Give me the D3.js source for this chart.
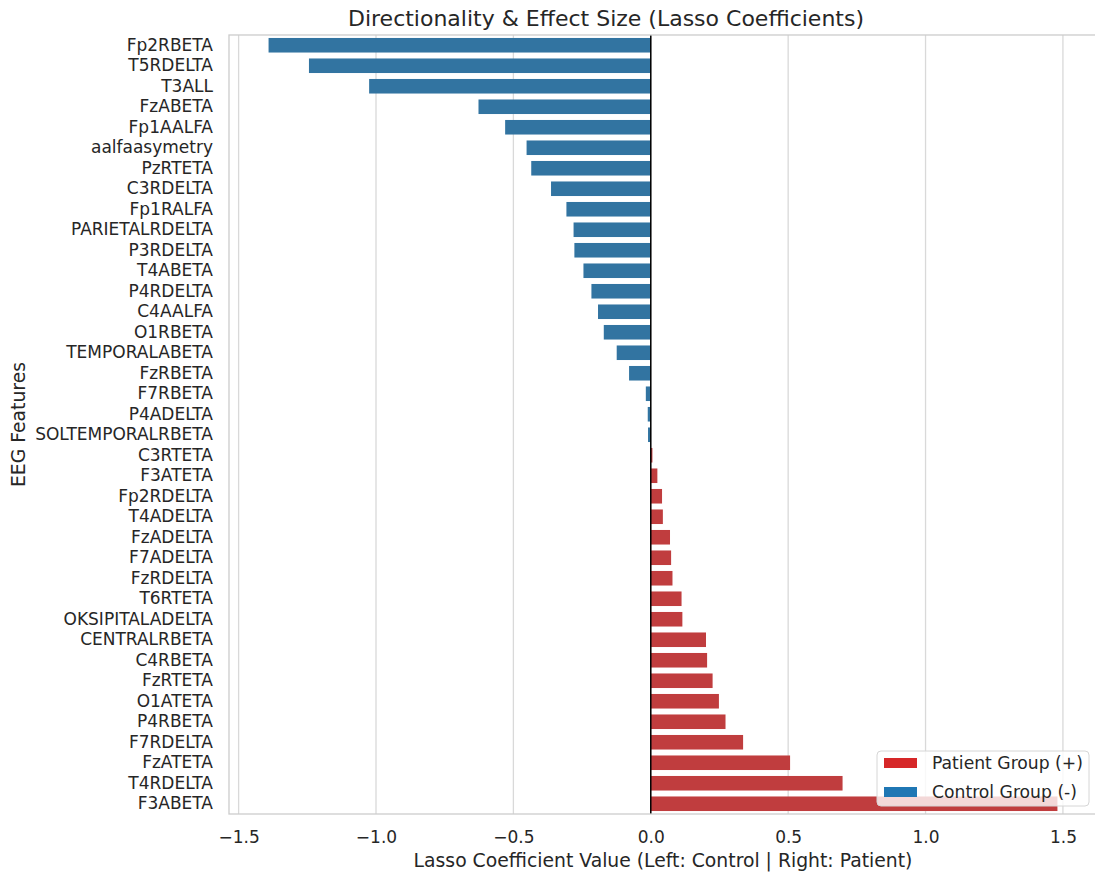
<!DOCTYPE html>
<html>
<head>
<meta charset="utf-8">
<script src="https://cdn.jsdelivr.net/npm/d3@7"></script>
<style>
  html, body { margin: 0; padding: 0; background: #ffffff; }
  svg { display: block; font-family: "DejaVu Sans", sans-serif; }
</style>
</head>
<body>
<svg id="chart" width="1095" height="878"></svg>
<script>
// EEG features ordered by Lasso coefficient (most negative first)
const features = [
  "Fp2RBETA", "T5RDELTA", "T3ALL", "FzABETA", "Fp1AALFA", "aalfaasymetry",
  "PzRTETA", "C3RDELTA", "Fp1RALFA", "PARIETALRDELTA", "P3RDELTA", "T4ABETA",
  "P4RDELTA", "C4AALFA", "O1RBETA", "TEMPORALABETA", "FzRBETA", "F7RBETA",
  "P4ADELTA", "SOLTEMPORALRBETA", "C3RTETA", "F3ATETA", "Fp2RDELTA", "T4ADELTA",
  "FzADELTA", "F7ADELTA", "FzRDELTA", "T6RTETA", "OKSIPITALADELTA", "CENTRALRBETA",
  "C4RBETA", "FzRTETA", "O1ATETA", "P4RBETA", "F7RDELTA", "FzATETA",
  "T4RDELTA", "F3ABETA"
];

const coefficients = [
  -1.391, -1.244, -1.025, -0.627, -0.530, -0.452,
  -0.435, -0.363, -0.307, -0.281, -0.278, -0.245,
  -0.216, -0.192, -0.171, -0.124, -0.079, -0.018,
  -0.011, -0.010, 0.006, 0.024, 0.041, 0.044,
  0.070, 0.074, 0.079, 0.112, 0.115, 0.201,
  0.205, 0.225, 0.248, 0.272, 0.336, 0.507,
  0.698, 1.480
];

const xTicks = [-1.5, -1.0, -0.5, 0.0, 0.5, 1.0, 1.5];

const legendLabels = ["Patient Group (+)", "Control Group (-)"];
const legendColors = ["#d62728", "#1f77b4"];

const data = features.map((f, i) => ({ feature: f, value: coefficients[i] }));

const svg = d3.select("#chart");
const margin = { left: 229, right: 1097, top: 35, bottom: 814 };

const x = d3.scaleLinear().domain([-1.535, 1.624]).range([margin.left, margin.right]);
const y = d3.scaleBand().domain(features).range([margin.top, margin.bottom])
  .paddingInner(0.29).paddingOuter(0.145);

const textColor = "#262626";
const gridColor = "#d9d9d9";

// vertical grid lines
svg.append("g")
  .selectAll("line")
  .data(xTicks)
  .join("line")
  .attr("x1", d => x(d)).attr("x2", d => x(d))
  .attr("y1", margin.top).attr("y2", margin.bottom)
  .attr("stroke", gridColor)
  .attr("stroke-width", 1.3);

// bars
svg.append("g")
  .selectAll("rect")
  .data(data)
  .join("rect")
  .attr("x", d => x(Math.min(0, d.value)))
  .attr("width", d => Math.abs(x(d.value) - x(0)))
  .attr("y", d => y(d.feature))
  .attr("height", y.bandwidth())
  .attr("fill", d => d.value >= 0 ? "#c03d3e" : "#3274a1");

// zero reference line
svg.append("line")
  .attr("x1", x(0)).attr("x2", x(0))
  .attr("y1", margin.top).attr("y2", margin.bottom)
  .attr("stroke", "#000000")
  .attr("stroke-width", 1.5);

// frame (left, top, bottom spines)
svg.append("rect")
  .attr("x", margin.left).attr("y", margin.top)
  .attr("width", margin.right - margin.left)
  .attr("height", margin.bottom - margin.top)
  .attr("fill", "none")
  .attr("stroke", "#cccccc")
  .attr("stroke-width", 1.3);

// x axis
const xAxis = svg.append("g")
  .attr("transform", `translate(0,${margin.bottom})`)
  .call(d3.axisBottom(x).tickValues(xTicks).tickFormat(d3.format(".1f")).tickSize(0).tickPadding(17));
xAxis.select(".domain").remove();
xAxis.selectAll("text")
  .attr("fill", textColor)
  .style("font-size", "17px")
  .style("font-family", "DejaVu Sans");

// y axis
const yAxis = svg.append("g")
  .attr("transform", `translate(${margin.left},0)`)
  .call(d3.axisLeft(y).tickSize(0).tickPadding(16));
yAxis.select(".domain").remove();
yAxis.selectAll("text")
  .attr("fill", textColor)
  .style("font-size", "17px")
  .style("font-family", "DejaVu Sans");

// titles
svg.append("text")
  .attr("x", 606).attr("y", 26)
  .attr("text-anchor", "middle")
  .attr("fill", textColor)
  .style("font-size", "22px")
  .text("Directionality & Effect Size (Lasso Coefficients)");

svg.append("text")
  .attr("x", (margin.left + margin.right) / 2).attr("y", 867)
  .attr("text-anchor", "middle")
  .attr("fill", textColor)
  .style("font-size", "18.8px")
  .text("Lasso Coefficient Value (Left: Control | Right: Patient)");

svg.append("text")
  .attr("transform", `translate(25,${(margin.top + margin.bottom) / 2}) rotate(-90)`)
  .attr("text-anchor", "middle")
  .attr("fill", textColor)
  .style("font-size", "18.8px")
  .text("EEG Features");

// legend
const legend = svg.append("g").attr("transform", "translate(877,751)");
legend.append("rect")
  .attr("width", 212).attr("height", 55)
  .attr("rx", 4).attr("ry", 4)
  .attr("fill", "#ffffff").attr("fill-opacity", 0.8)
  .attr("stroke", "#d6d6d6").attr("stroke-width", 1);
legend.selectAll("rect.key")
  .data(legendLabels)
  .join("rect")
  .attr("class", "key")
  .attr("x", 7).attr("y", (d, i) => 7 + i * 29)
  .attr("width", 33).attr("height", 10)
  .attr("fill", (d, i) => legendColors[i]);
legend.selectAll("text")
  .data(legendLabels)
  .join("text")
  .attr("x", 55).attr("y", (d, i) => 12 + i * 29)
  .attr("dy", "0.35em")
  .attr("fill", textColor)
  .style("font-size", "17.2px")
  .text(d => d);
</script>
</body>
</html>
